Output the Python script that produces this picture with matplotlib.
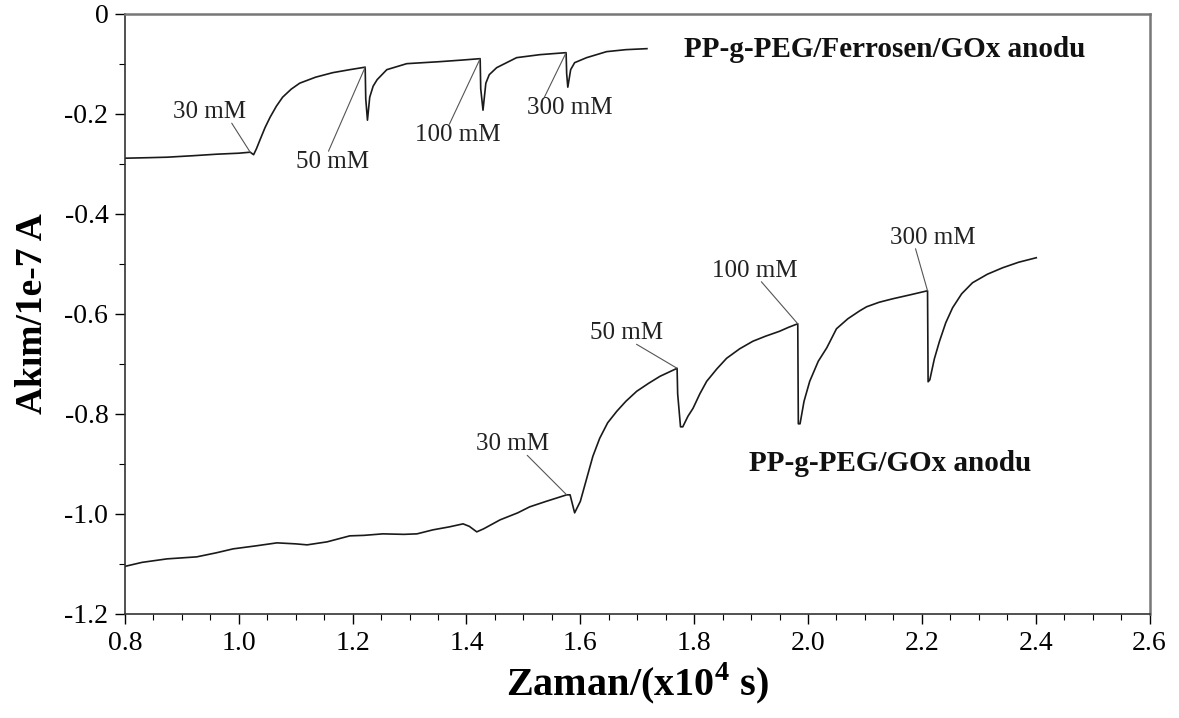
import numpy as np
import matplotlib
matplotlib.use("Agg")
import matplotlib.pyplot as plt

plt.rcParams["font.family"] = "Liberation Serif"
plt.rcParams["mathtext.fontset"] = "custom"
plt.rcParams["mathtext.rm"] = "Liberation Serif"
plt.rcParams["mathtext.bf"] = "Liberation Serif:bold"

# PP-g-PEG/Ferrosen/GOx anodu
t_ferro = [0.80, 0.84, 0.874, 0.92, 0.961, 1.00, 1.020, 1.026, 1.031, 1.037,
           1.046, 1.055, 1.066, 1.077, 1.092, 1.107, 1.135, 1.165, 1.195, 1.222,
           1.223, 1.226, 1.230, 1.236, 1.243, 1.260, 1.295, 1.353, 1.390, 1.424,
           1.425, 1.429, 1.434, 1.440, 1.453, 1.488, 1.529, 1.575, 1.576, 1.578,
           1.583, 1.590, 1.611, 1.646, 1.680, 1.717]
i_ferro = [-0.289, -0.288, -0.287, -0.284, -0.281, -0.279, -0.277, -0.282, -0.270, -0.253,
           -0.228, -0.207, -0.185, -0.167, -0.151, -0.139, -0.127, -0.118, -0.112, -0.107,
           -0.170, -0.213, -0.167, -0.145, -0.132, -0.112, -0.100, -0.096, -0.093, -0.090,
           -0.150, -0.193, -0.139, -0.122, -0.108, -0.088, -0.082, -0.078, -0.120, -0.147,
           -0.112, -0.098, -0.088, -0.076, -0.072, -0.070]

# PP-g-PEG/GOx anodu
t_gox = [0.80, 0.83, 0.874, 0.90, 0.926, 0.96, 0.99, 1.03, 1.067, 1.10,
         1.12, 1.155, 1.195, 1.22, 1.253, 1.29, 1.313, 1.341, 1.37, 1.394,
         1.405, 1.418, 1.43, 1.459, 1.49, 1.511, 1.54, 1.576, 1.582, 1.590,
         1.600, 1.611, 1.622, 1.634, 1.648, 1.664, 1.680, 1.699, 1.720, 1.740,
         1.755, 1.770, 1.771, 1.776, 1.780, 1.789, 1.798, 1.810, 1.822, 1.840,
         1.857, 1.880, 1.903, 1.925, 1.950, 1.966, 1.982, 1.983, 1.986, 1.993,
         2.003, 2.018, 2.033, 2.050, 2.070, 2.091, 2.103, 2.125, 2.149, 2.180,
         2.210, 2.211, 2.214, 2.222, 2.231, 2.242, 2.254, 2.270, 2.289, 2.315,
         2.342, 2.370, 2.401]
i_gox = [-1.105, -1.097, -1.090, -1.088, -1.086, -1.078, -1.070, -1.064, -1.058, -1.060,
         -1.062, -1.056, -1.044, -1.043, -1.040, -1.041, -1.040, -1.032, -1.026, -1.020,
         -1.025, -1.036, -1.030, -1.012, -0.998, -0.986, -0.975, -0.962, -0.962, -0.998,
         -0.975, -0.930, -0.885, -0.849, -0.818, -0.795, -0.775, -0.755, -0.739, -0.725,
         -0.717, -0.709, -0.760, -0.826, -0.826, -0.805, -0.789, -0.760, -0.735, -0.710,
         -0.689, -0.670, -0.655, -0.645, -0.635, -0.627, -0.620, -0.820, -0.820, -0.775,
         -0.735, -0.695, -0.668, -0.630, -0.610, -0.594, -0.586, -0.577, -0.570, -0.562,
         -0.554, -0.736, -0.732, -0.690, -0.655, -0.618, -0.588, -0.560, -0.538, -0.521,
         -0.508, -0.497, -0.488]

conc_labels = ["30 mM", "50 mM", "100 mM", "300 mM"]
inj_ferro = [1.020, 1.222, 1.424, 1.575]
inj_gox = [1.576, 1.770, 1.982, 2.210]

# label placement: (x, y, relpos of leader start)
pos_ferro = [(0.949, -0.197, (0.80, 0.0)),
             (1.164, -0.297, (0.45, 1.0)),
             (1.385, -0.243, (0.40, 1.0)),
             (1.582, -0.189, (0.20, 1.0))]
pos_gox = [(1.481, -0.861, (0.70, 0.0)),
           (1.682, -0.639, (0.63, 0.0)),
           (1.906, -0.514, (0.58, 0.0)),
           (2.219, -0.448, (0.30, 0.0))]

fig = plt.figure(figsize=(11.79, 7.18), dpi=100)
ax = fig.add_axes([0.106, 0.145, 0.869, 0.836])

ax.plot(t_ferro, i_ferro, color="#1a1a1a", lw=1.2)
ax.plot(t_gox, i_gox, color="#1a1a1a", lw=1.2)


def label_steps(t, i, inj, pos):
    t = np.array(t)
    i = np.array(i)
    for lab, ti, (tx, ty, rp) in zip(conc_labels, inj, pos):
        k = np.where(t <= ti + 1e-9)[0][-1]
        ax.annotate(lab, xy=(t[k], i[k]), xytext=(tx, ty),
                    ha="center", va="center", fontsize=18, color="#222222",
                    arrowprops=dict(arrowstyle="-", color="#555555", lw=0.8,
                                    relpos=rp, patchA=None,
                                    shrinkA=0, shrinkB=0))


label_steps(t_ferro, i_ferro, inj_ferro, pos_ferro)
label_steps(t_gox, i_gox, inj_gox, pos_gox)

ax.text(2.135, -0.072, "PP-g-PEG/Ferrosen/GOx anodu", ha="center", va="center",
        fontsize=21, fontweight="bold", color="#111111")
ax.text(2.145, -0.900, "PP-g-PEG/GOx anodu", ha="center", va="center",
        fontsize=21, fontweight="bold", color="#111111")

ax.set_xlim(0.8, 2.6)
ax.set_ylim(-1.2, 0)
ax.set_xticks(np.arange(0.8, 2.61, 0.2))
ax.set_xticks(np.arange(0.8, 2.61, 0.05), minor=True)
ax.set_yticks(np.arange(-1.2, 0.01, 0.2))
ax.set_yticks(np.arange(-1.2, 0.01, 0.1), minor=True)
ax.set_xticklabels(["%.1f" % v for v in np.arange(0.8, 2.61, 0.2)])
ax.set_yticklabels(["%.1f" % v if abs(v) > 1e-9 else "0" for v in np.arange(-1.2, 0.01, 0.2)])

ax.tick_params(which="major", direction="out", length=7, width=1.0, labelsize=20, pad=5)
ax.tick_params(which="minor", direction="out", length=4, width=0.8)
ax.tick_params(top=False, right=False)

for s in ["left", "bottom"]:
    ax.spines[s].set_linewidth(1.2)
    ax.spines[s].set_color("#333333")
for s in ["top", "right"]:
    ax.spines[s].set_linewidth(1.8)
    ax.spines[s].set_color("#777777")

ax.set_xlabel("Zaman/(x10$^{\\mathbf{4}}$ s)", fontsize=29, fontweight="bold", labelpad=3)
ax.set_ylabel("Akım/1e-7 A", fontsize=27, fontweight="bold", labelpad=10)

fig.savefig("out.png", dpi=100)
